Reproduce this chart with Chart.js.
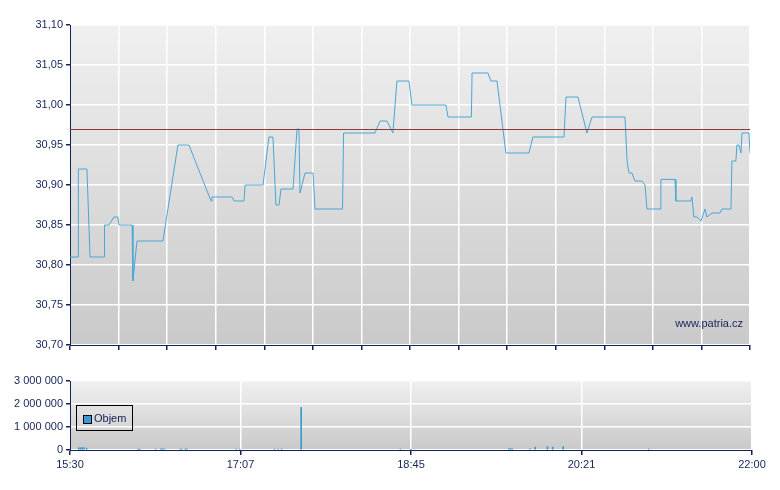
<!DOCTYPE html>
<html><head><meta charset="utf-8">
<script src="https://cdn.jsdelivr.net/npm/chart.js@4/dist/chart.umd.min.js"></script>
<style>
body{margin:0;background:#fff;width:780px;height:490px;position:relative;overflow:hidden;font-family:"Liberation Sans",Arial,sans-serif}
canvas{position:absolute;left:0}
#legend{position:absolute;left:76px;top:405px;width:57px;height:26px;border:1px solid #000;font-size:11px;color:#102050;box-sizing:border-box}
#legend span{position:absolute;left:6px;top:9px;width:7px;height:7px;background:#3a9ad0;border:1px solid #000}
#legend b{position:absolute;left:17px;top:6px;font-weight:normal}
</style></head><body>
<canvas id="c1" style="top:0" width="780" height="360"></canvas>
<canvas id="c2" style="top:370px" width="780" height="120"></canvas>
<div id="legend"><span></span><b>Objem</b></div>
<script>
// minutes after 15:30
const priceTimes=[0,4.6,4.8,9.7,11.5,19.5,19.8,22.4,25.2,27.5,28.1,35.6,36.1,38.4,53.3,61.9,68.2,80.9,81.4,92.9,94.1,99.8,100.4,110.7,114.1,116.4,118.1,119.9,121,127.9,130.2,131.3,131.9,134.8,139.4,140.5,156.3,156.9,174.9,177.8,181.8,185.2,187.5,194.4,196.1,215.6,216.8,230.2,230.6,239.7,241.4,244.9,250,263.2,265.5,283.3,284.5,291.3,296.5,299.4,318.3,319.5,320.6,322.3,324,328,329.8,330.9,338.4,338.9,347,347.5,356.1,356.7,357.8,359.6,361.9,364.2,365.3,368.2,372.8,373.9,379.1,379.6,381.9,382.5,383.7,384.8,385.4,389.4,390];
const priceValues=[30.81,30.81,30.92,30.92,30.81,30.81,30.85,30.85,30.86,30.86,30.85,30.85,30.78,30.83,30.83,30.95,30.95,30.88,30.885,30.885,30.88,30.88,30.90,30.90,30.96,30.96,30.875,30.875,30.895,30.895,30.97,30.97,30.89,30.915,30.915,30.87,30.87,30.965,30.965,30.98,30.98,30.965,31.03,31.03,31.00,31.00,30.985,30.985,31.04,31.04,31.03,31.03,30.94,30.94,30.96,30.96,31.01,31.01,30.965,30.985,30.985,30.93,30.915,30.915,30.905,30.905,30.90,30.87,30.87,30.907,30.907,30.88,30.88,30.885,30.86,30.86,30.855,30.87,30.86,30.865,30.865,30.87,30.87,30.93,30.93,30.95,30.95,30.94,30.965,30.965,30.94];
const refPrice=30.97;
const volTimes=[5,6,7,8,9.5,39,40,49,52,53,54,63,64,66,67,95,97,117,119,121,132.2,189,195,251,252,253,263,266,273,276,282,331];
const volValues=[100000,100000,100000,100000,80000,40000,30000,40000,50000,50000,40000,40000,40000,50000,40000,40000,40000,40000,40000,40000,1850000,40000,30000,60000,60000,50000,50000,130000,150000,130000,150000,40000];
const xLabels=['15:30','17:07','18:45','20:21','22:00'];
const priceTicks=[30.70,30.75,30.80,30.85,30.90,30.95,31.00,31.05,31.10];
const volTicks=[0,1000000,2000000,3000000];

const navy='#13245a';
const bg={id:'bg',beforeDraw(c){const a=c.chartArea,x=c.ctx;const g=x.createLinearGradient(0,a.top,0,a.bottom);g.addColorStop(0,'#f0f0f0');g.addColorStop(1,'#c9c9c9');x.save();x.fillStyle=g;x.fillRect(a.left,a.top,a.right-a.left,a.bottom-a.top);x.restore();}};
const ref={id:'ref',afterDatasetsDraw(c){const y=c.scales.y.getPixelForValue(refPrice),a=c.chartArea,x=c.ctx;x.save();x.strokeStyle='#8e3a3a';x.lineWidth=1;x.beginPath();x.moveTo(a.left,Math.round(y)+0.5);x.lineTo(a.right,Math.round(y)+0.5);x.stroke();x.font='11px "Liberation Sans",Arial';x.fillStyle=navy;x.textAlign='right';x.fillText('www.patria.cz',a.right-7,a.bottom-18);x.restore();}};
const font={family:'"Liberation Sans",Arial',size:11};

new Chart(document.getElementById('c1'),{type:'line',
data:{datasets:[{data:priceTimes.map((t,i)=>({x:t,y:priceValues[i]})),borderColor:'#4aa6d4',borderWidth:1,pointRadius:0,tension:0}]},
options:{responsive:false,animation:false,layout:{padding:{top:25,right:30,left:0,bottom:0}},
plugins:{legend:{display:false},tooltip:{enabled:false}},
scales:{x:{type:'linear',min:0,max:390,afterBuildTicks(s){s.ticks=[];for(let i=0;i<=14;i++)s.ticks.push({value:390*i/14});},afterFit(s){s.height=15;},
ticks:{display:false},grid:{color:'#ffffff',lineWidth:1.5,tickColor:navy,tickLength:5,drawTicks:true},border:{color:navy}},
y:{min:30.70,max:31.10,afterBuildTicks(s){s.ticks=priceTicks.map(v=>({value:v}));},afterFit(s){s.width=70;},
ticks:{color:navy,font,callback:v=>v.toFixed(2).replace('.',',')},grid:{color:'#ffffff',lineWidth:1.5,tickColor:navy,tickLength:4},border:{color:navy}}}},
plugins:[bg,ref]});

new Chart(document.getElementById('c2'),{type:'bar',
data:{datasets:[{data:volTimes.map((t,i)=>({x:t,y:volValues[i]})),backgroundColor:'#3a9ad0',barThickness:1}]},
options:{responsive:false,animation:false,layout:{padding:{top:11,right:28,left:0,bottom:0}},
plugins:{legend:{display:false},tooltip:{enabled:false}},
scales:{x:{type:'linear',min:0,max:390,offset:false,afterBuildTicks(s){s.ticks=xLabels.map((l,i)=>({value:97.5*i}));},afterFit(s){s.height=40;},
ticks:{color:navy,font,maxRotation:0,autoSkip:false,callback:(v,i)=>xLabels[i]},grid:{color:'#ffffff',lineWidth:1.5,tickColor:navy,tickLength:5,offset:false},border:{color:navy}},
y:{min:0,max:3000000,afterBuildTicks(s){s.ticks=volTicks.map(v=>({value:v}));},afterFit(s){s.width=70;},
ticks:{color:navy,font,callback:v=>String(v).replace(/\B(?=(\d{3})+(?!\d))/g,' ')},grid:{color:'#ffffff',lineWidth:1.5,tickColor:navy,tickLength:4},border:{color:navy}}}},
plugins:[bg]});
</script></body></html>
